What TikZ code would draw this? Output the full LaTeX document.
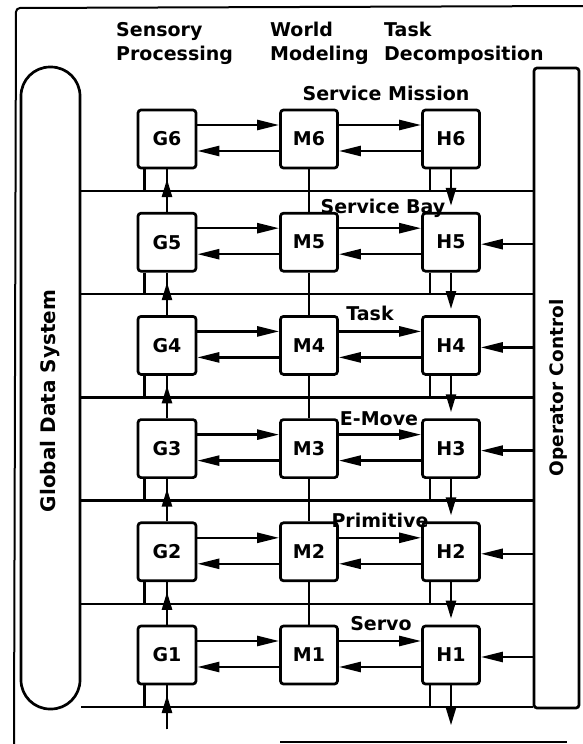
\documentclass[tikz,border=0pt]{standalone}
\usepackage{fontspec}
\setmainfont{DejaVu Sans}
\usetikzlibrary{arrows.meta,calc}
\begin{document}
\begin{tikzpicture}[x=1pt,y=-1pt,
  lin/.style={line width=2.5pt},
  arr/.style={line width=2.5pt,-{Triangle[length=22pt,width=10pt]}},
  varr/.style={line width=2.5pt,-{Triangle[length=18pt,width=10pt]}},
  box/.style={draw,line width=2.7pt,rounded corners=3pt,minimum width=57pt,minimum height=58pt,inner sep=0pt,font=\fontsize{19}{22}\selectfont\bfseries},
  lbl/.style={font=\fontsize{19}{22}\selectfont\bfseries,inner sep=0pt}]
\useasboundingbox (0,0) rectangle (583,744);
\fill[white] (0,0) rectangle (583,744);
% outer frame
\draw[line width=2pt,rounded corners=4pt] (583,6) -- (16,8) -- (14,744);
\draw[line width=2pt] (280,742) -- (567,742);
% side blocks
\node[draw,line width=2.7pt,rounded corners=29pt,minimum width=59pt,minimum height=642pt,inner sep=0pt] (gds) at (50.5,388) {};
\node[draw,line width=2.7pt,rounded corners=3pt,minimum width=45pt,minimum height=640pt,inner sep=0pt] (op) at (556.5,388) {};
\node[font=\fontsize{20}{24}\selectfont\bfseries,rotate=90,inner sep=0pt] (gdst) at (50,401) {Global Data System};
\node[font=\fontsize{18.5}{22}\selectfont\bfseries,rotate=90,inner sep=0pt] (opt) at (558,388) {Operator Control};
% boxes
\foreach \k in {1,...,6}{
  \pgfmathsetmacro\c{139+(6-\k)*103.2}
  \node[box,minimum width=58pt] (G\k) at (167,\c) {G\k};
  \node[box] (M\k) at (309,\c) {M\k};
  \node[box] (H\k) at (451,\c) {H\k};
  \coordinate (bus\k) at (300,\c+52);
}
% buses, horizontal arrows, legs
\foreach \k in {1,...,6}{
  \draw[lin] (gds.east |- bus\k) -- (op.west |- bus\k);
  \draw[arr] ([yshift=14pt]G\k.east) -- ([yshift=14pt]M\k.west);
  \draw[arr] ([yshift=-12pt]M\k.west) -- ([yshift=-12pt]G\k.east);
  \draw[arr] ([yshift=14pt]M\k.east) -- ([yshift=14pt]H\k.west);
  \draw[arr] ([yshift=-12pt]H\k.west) -- ([yshift=-12pt]M\k.east);
  \path ([xshift=8pt]G\k.south west) coordinate (gl\k);
  \draw[lin] (gl\k) -- (gl\k |- bus\k);
  \path ([xshift=9pt]H\k.south west) coordinate (hl\k);
  \draw[lin] (hl\k) -- (hl\k |- bus\k);
}
% vertical connections
\foreach \k in {2,...,6}{
  \pgfmathtruncatemacro\j{\k-1}
  \draw[lin] (M\k.south) -- (M\j.north);
  \draw[lin] (G\j.north) -- (G\k.south);
  \path (G\k.south |- bus\k) ++(0,-12) coordinate (gt\k);
  \draw[varr] (G\j.north) -- (gt\k);
  \draw[varr,shorten >=6pt] (H\k.south) -- (H\j.north);
}
% operator inputs
\foreach \k in {1,...,5}{
  \path (H\k.east) ++(0,2) coordinate (he\k);
  \draw[arr] (op.west |- he\k) -- (he\k);
}
% bottom input/output
\coordinate (gin) at ($(G1.south)+(0,44)$);
\path (G1.south |- bus1) ++(0,-12) coordinate (gt1);
\draw[lin] (gin) -- (G1.south);
\draw[varr] (gin) -- (gt1);
\coordinate (hout) at ($(H1.south)+(0,40)$);
\draw[varr] (H1.south) -- (hout);
% headers
\node[lbl,anchor=base west] (hs1) at (116,36) {Sensory};
\node[lbl,anchor=base west] (hs2) at (116,60) {Processing};
\node[lbl,anchor=base west] (hw1) at (270,36) {World};
\node[lbl,anchor=base west] (hw2) at (270,60) {Modeling};
\node[lbl,anchor=base west] (ht1) at (384,36) {Task};
\node[lbl,anchor=base west] (ht2) at (384,60) {Decomposition};
% layer labels
\node[lbl,anchor=base] (l6) at (386,100) {Service Mission};
\node[lbl,anchor=base] (l5) at (383,213) {Service Bay};
\node[lbl,anchor=base] (l4) at (370,320) {Task};
\node[lbl,anchor=base] (l3) at (379,425) {E-Move};
\node[lbl,anchor=base] (l2) at (380,527) {Primitive};
\node[lbl,anchor=base] (l1) at (381,630) {Servo};
\end{tikzpicture}
\end{document}
